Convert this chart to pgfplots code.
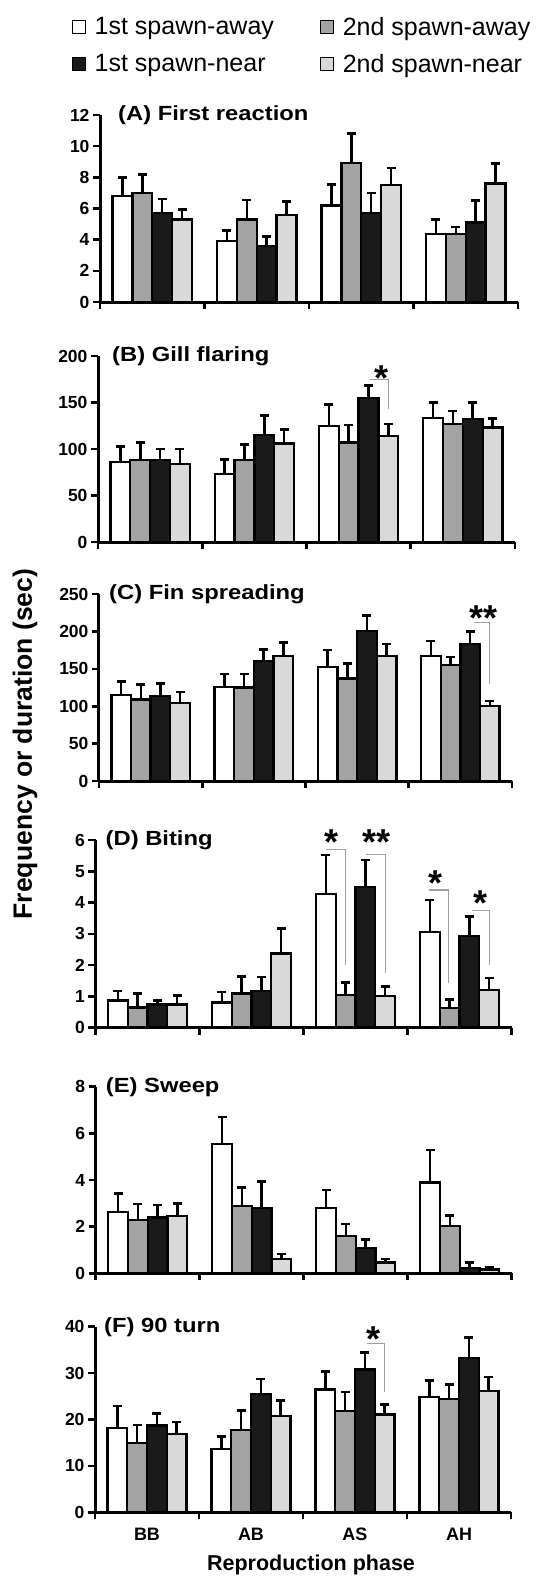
\documentclass[border=0pt]{standalone}
\usepackage{pgfplots}
\pgfplotsset{compat=1.18}
\usepackage{pgfplotstable}
\usepackage{fontspec}
\setmainfont{Liberation Sans}
\newfontfamily\ttlfam[FakeStretch=1.16]{Liberation Sans}

\definecolor{cgray}{HTML}{A3A3A3}
\definecolor{cblack}{HTML}{1A1A1A}
\definecolor{clight}{HTML}{D9D9D9}
\definecolor{cbrack}{HTML}{A0A0A0}

\newcommand\tickfont{\fontsize{17.5}{20}\selectfont\bfseries}
\newcommand\ttlfont{\ttlfam\fontsize{20.5}{24}\selectfont\bfseries}
\newcommand\legfont{\fontsize{25}{29}\selectfont}
\newcommand\ylabfont{\fontsize{26.5}{30}\selectfont\bfseries}
\newcommand\xlabfont{\fontsize{21.5}{24}\selectfont\bfseries}
\newcommand\catfont{\fontsize{18}{20}\selectfont\bfseries}
\newcommand\astfont{\fontsize{36}{36}\selectfont\bfseries}

% columns: phase index, then mean and SE for the four groups
\pgfplotstableread{
x s1 e1 s2 e2 s3 e3 s4 e4
0 6.8 1.2 7.0 1.2 5.7 0.9 5.3 0.65
1 3.9 0.7 5.3 1.25 3.6 0.6 5.6 0.85
2 6.2 1.35 8.9 1.9 5.7 1.3 7.5 1.1
3 4.35 0.95 4.35 0.47 5.1 1.4 7.6 1.3
}\dataA
\pgfplotstableread{
x s1 e1 s2 e2 s3 e3 s4 e4
0 86 17 88 19 88 12 84 16
1 73 16 88 17 115 21 106 15
2 125 23 107 19 155 13 114 13
3 133 17 127 14 132 18 123 10
}\dataB
\pgfplotstableread{
x s1 e1 s2 e2 s3 e3 s4 e4
0 115 18 109 20 114 16 104 15
1 126 17 125 18 160 16 167 18
2 152 23 137 20 201 20 167 16
3 167 20 155 11 183 17 100 7
}\dataC
\pgfplotstableread{
x s1 e1 s2 e2 s3 e3 s4 e4
0 0.87 0.30 0.64 0.45 0.74 0.13 0.74 0.28
1 0.80 0.34 1.09 0.55 1.16 0.46 2.37 0.80
2 4.27 1.25 1.05 0.39 4.50 0.86 1.00 0.32
3 3.06 1.02 0.63 0.26 2.93 0.63 1.21 0.38
}\dataD
\pgfplotstableread{
x s1 e1 s2 e2 s3 e3 s4 e4
0 2.64 0.79 2.29 0.68 2.39 0.54 2.46 0.54
1 5.53 1.18 2.89 0.80 2.81 1.12 0.60 0.23
2 2.81 0.76 1.60 0.51 1.10 0.36 0.46 0.15
3 3.89 1.40 2.03 0.44 0.24 0.22 0.17 0.09
}\dataE
\pgfplotstableread{
x s1 e1 s2 e2 s3 e3 s4 e4
0 18.2 4.7 15.0 3.8 18.7 2.6 16.9 2.6
1 13.6 2.7 17.7 4.3 25.5 3.2 20.8 3.3
2 26.5 3.9 21.8 4.1 30.8 3.7 21.1 2.2
3 24.9 3.5 24.4 3.2 33.3 4.4 26.2 3.0
}\dataF

\pgfplotsset{
  panel/.style={
    scale only axis, ybar=0pt, bar width=0.19,
    xmin=-0.5, xmax=3.5, ymin=0, enlargelimits=false, clip=false,
    axis x line*=bottom, axis y line*=left,
    axis line style={-, line width=3pt},
    xtick={-0.5,0.5,1.5,2.5,3.5}, xticklabels={},
    tick align=outside, major tick length=7pt,
    every tick/.style={black, line width=2.6pt},
    yticklabel style={font=\tickfont},
    /pgf/number format/assume math mode=true,
    error bars/y dir=plus, error bars/y explicit,
    error bars/error bar style={line width=2.6pt, black},
    error bars/error mark options={rotate=90, black, line width=2.6pt, mark size=4.5pt},
  },
  sq legend/.style={legend image code/.code={%
    \draw[##1, line width=1.4pt] (0pt,-6.5pt) rectangle (13pt,6.5pt);
    \path (19pt,0pt);}},
  barA/.style={fill=white, draw=black, line width=2.3pt, sq legend},
  barB/.style={fill=cgray, draw=black, line width=2.3pt, sq legend},
  barC/.style={fill=cblack, draw=black, line width=2.3pt, sq legend},
  barD/.style={fill=clight, draw=black, line width=2.3pt, sq legend},
}
\tikzset{
  brk/.style={cbrack, line width=1.1pt},
  ast/.style={anchor=north, inner sep=0pt, font=\astfont},
  ttl/.style={anchor=west, inner sep=0pt, font=\ttlfont},
}

\newcommand\fourbars[1]{%
  \addplot[barA] table[x=x, y=s1, y error=e1] {#1};
  \addplot[barB] table[x=x, y=s2, y error=e2] {#1};
  \addplot[barC] table[x=x, y=s3, y error=e3] {#1};
  \addplot[barD] table[x=x, y=s4, y error=e4] {#1};
}

\begin{document}
\begin{tikzpicture}
\useasboundingbox (0pt,0pt) rectangle (545pt,-1579pt);

% (A)
\begin{axis}[panel, at={(100pt,-302pt)}, anchor=south west,
  width=418pt, height=187pt, ymax=12, ytick={0,2,...,12},
  legend style={at={(-0.075,1.545)}, anchor=north west, draw=none, fill=none,
    font=\legfont, legend columns=2, legend cell align=left, row sep=13pt,
    /tikz/every even column/.append style={column sep=44pt}}]
\fourbars{\dataA}
\legend{1st spawn-away, 2nd spawn-away, 1st spawn-near, 2nd spawn-near}
\node[ttl, xshift=18pt] at (rel axis cs:0,1) {(A) First reaction};
\end{axis}

% (B)
\begin{axis}[panel, at={(98pt,-542pt)}, anchor=south west,
  width=417pt, height=186pt, ymax=200, ytick={0,50,...,200}]
\fourbars{\dataB}
\node[ttl, xshift=14pt] at (rel axis cs:0,1) {(B) Gill flaring};
\draw[brk] (axis cs:2.11,175) -- (axis cs:2.285,175) -- (axis cs:2.285,143);
\node[ast] at (axis cs:2.22,190) {*};
\end{axis}

% (C)
\begin{axis}[panel, at={(99pt,-781pt)}, anchor=south west,
  width=413pt, height=187pt, ymax=250, ytick={0,50,...,250}]
\fourbars{\dataC}
\node[ttl, xshift=10pt] at (rel axis cs:0,1) {(C) Fin spreading};
\draw[brk] (axis cs:3.13,212.5) -- (axis cs:3.285,212.5) -- (axis cs:3.285,130);
\node[ast] at (axis cs:3.22,235) {**};
\end{axis}

% (D)
\begin{axis}[panel, at={(95.5pt,-1027.6pt)}, anchor=south west,
  width=416pt, height=187.6pt, ymax=6, ytick={0,1,...,6}]
\fourbars{\dataD}
\node[ttl, xshift=10pt] at (rel axis cs:0,1) {(D) Biting};
\draw[brk] (axis cs:1.715,5.71) -- (axis cs:1.905,5.71) -- (axis cs:1.905,1.99);
\draw[brk] (axis cs:2.10,5.55) -- (axis cs:2.29,5.55) -- (axis cs:2.29,1.75);
\draw[brk] (axis cs:2.71,4.40) -- (axis cs:2.895,4.40) -- (axis cs:2.895,1.43);
\draw[brk] (axis cs:3.12,3.76) -- (axis cs:3.29,3.76) -- (axis cs:3.29,2.01);
\node[ast] at (axis cs:1.77,6.32) {*};
\node[ast] at (axis cs:2.20,6.32) {**};
\node[ast] at (axis cs:2.77,5.04) {*};
\node[ast] at (axis cs:3.20,4.40) {*};
\end{axis}

% (E)
\begin{axis}[panel, at={(95.7pt,-1273.3pt)}, anchor=south west,
  width=416pt, height=186.6pt, ymax=8, ytick={0,2,...,8}]
\fourbars{\dataE}
\node[ttl, xshift=10pt] at (rel axis cs:0,1) {(E) Sweep};
\end{axis}

% (F)
\begin{axis}[panel, at={(95pt,-1512.3pt)}, anchor=south west,
  width=416pt, height=185.6pt, ymax=40, ytick={0,10,...,40},
  extra x ticks={0,1,2,3}, extra x tick labels={BB,AB,AS,AH},
  extra x tick style={major tick length=0pt, xticklabel style={font=\catfont, yshift=-12pt}}]
\fourbars{\dataF}
\node[ttl, xshift=9pt] at (rel axis cs:0,1) {(F) 90 turn};
\draw[brk] (axis cs:2.115,36.3) -- (axis cs:2.285,36.3) -- (axis cs:2.285,26);
\node[ast] at (axis cs:2.18,40) {*};
\end{axis}

\node[rotate=90, font=\ylabfont] at (25pt,-744pt) {Frequency or duration (sec)};
\node[anchor=base, font=\xlabfont] at (311pt,-1570pt) {Reproduction phase};
\end{tikzpicture}
\end{document}
